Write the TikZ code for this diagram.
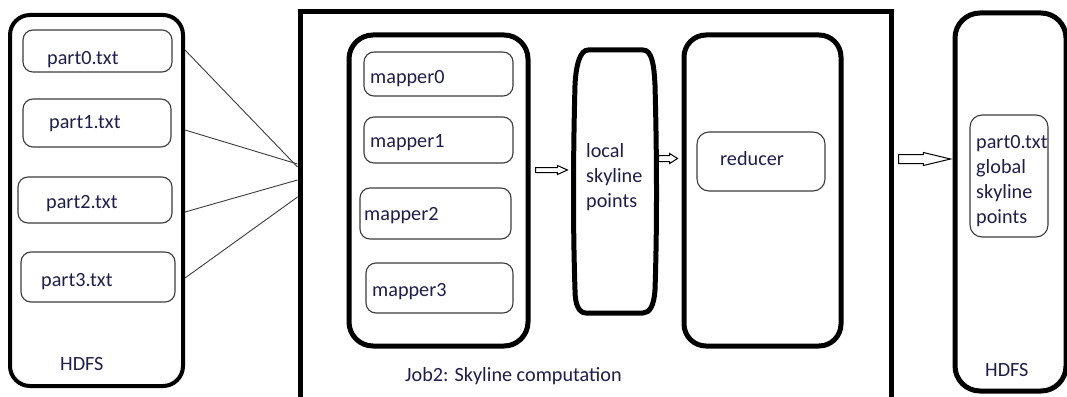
\documentclass[tikz,border=0pt]{standalone}
\usepackage{fontspec}
\setmainfont{Carlito}
\usetikzlibrary{shapes.arrows,calc}
\definecolor{ink}{RGB}{30,30,75}
\definecolor{thinline}{RGB}{60,60,60}
\tikzset{
  heavybox/.style={draw=black, line width=5pt, rounded corners=24pt, inner sep=0pt},
  itembox/.style={draw=thinline, line width=1.1pt, rounded corners=10pt, inner sep=0pt},
  lbl/.style={anchor=base west, inner sep=0pt, text=ink, font=\fontsize{20.2}{24}\selectfont},
  link/.style={draw=thinline, line width=0.9pt},
  hollow/.style={single arrow, draw=black, line width=1pt, fill=white, anchor=tail,
    inner xsep=0pt, minimum width=0pt, single arrow head indent=0pt},
}
\begin{document}
\begin{tikzpicture}[x=1pt,y=-1pt]
\useasboundingbox (0,0) rectangle (1067,396);
\fill[white] (0,0) rectangle (1067,396);

% ---------- input HDFS ----------
\node[heavybox, line width=4pt, rounded corners=20pt, minimum width=173pt, minimum height=371pt] (hdfsL) at (96.5,200.5) {};
\node[itembox, minimum width=149pt, minimum height=42pt] (p0) at (97.5,51) {};
\node[itembox, minimum width=148pt, minimum height=48pt] (p1) at (97,123) {};
\node[itembox, minimum width=154pt, minimum height=46pt] (p2) at (95,200) {};
\node[itembox, minimum width=154pt, minimum height=50pt] (p3) at (98,277) {};
\node[lbl] (p0t) at (47,64) {part0.txt};
\node[lbl] (p1t) at (49,128) {part1.txt};
\node[lbl] (p2t) at (46,208) {part2.txt};
\node[lbl] (p3t) at (41,286) {part3.txt};
\node[lbl] (hdfsLt) at (60,370) {HDFS};

% ---------- the job ----------
\node[draw=black, line width=5pt, inner sep=0pt, minimum width=591pt, minimum height=390pt] (job) at (595.5,207) {};
\node[lbl] (jobt) at (405,381) {Job2: Skyline computation};

% mappers
\node[heavybox, minimum width=179pt, minimum height=311pt] (maps) at (438.5,190.5) {};
\node[itembox, minimum width=149pt, minimum height=44pt] (m0) at (438.5,74) {};
\node[itembox, minimum width=149pt, minimum height=46pt] (m1) at (438.5,140) {};
\node[itembox, minimum width=151pt, minimum height=51pt] (m2) at (435.5,213.5) {};
\node[itembox, minimum width=147pt, minimum height=50pt] (m3) at (439.5,288) {};
\node[lbl] (m0t) at (370,83) {mapper0};
\node[lbl] (m1t) at (370,147) {mapper1};
\node[lbl] (m2t) at (364,220) {mapper2};
\node[lbl] (m3t) at (372,296) {mapper3};

% local skyline points: barrel-shaped outline
\node[line width=5pt, inner sep=0pt, minimum width=80pt, minimum height=263pt] (local) at (615,181.5) {};
\draw[line width=5pt, line join=round]
  (588,50) -- (643,50)
  .. controls (652,50) and (654,65) .. (655,85)
  .. controls (657,160) and (657,230) .. (655,290)
  .. controls (654,305) and (650,313) .. (643,313)
  -- (586,313)
  .. controls (579,313) and (575,305) .. (575,290)
  .. controls (573,230) and (573,160) .. (575,85)
  .. controls (576,65) and (580,50) .. (588,50) -- cycle;
\node[lbl] (lt1) at (586,157) {local};
\node[lbl] (lt2) at (586,182) {skyline};
\node[lbl] (lt3) at (586,207) {points};

% reducer
\node[heavybox, rounded corners=22pt, minimum width=157pt, minimum height=311pt] (redc) at (762.5,190.5) {};
\node[itembox, rounded corners=12pt, minimum width=128pt, minimum height=59pt] (red) at (761,161.5) {};
\node[lbl] (redt) at (720,165) {reducer};

% ---------- output HDFS ----------
\node[heavybox, rounded corners=25pt, minimum width=111pt, minimum height=378pt] (hdfsR) at (1010.5,202) {};
\node[itembox, rounded corners=12pt, minimum width=78pt, minimum height=122pt] (out) at (1009,176) {};
\node[lbl] (o1) at (976,148) {part0.txt};
\node[lbl] (o2) at (976,173) {global};
\node[lbl] (o3) at (976,198) {skyline};
\node[lbl] (o4) at (976,223) {points};
\node[lbl] (hdfsRt) at (985,376) {HDFS};

% ---------- connectors ----------
\draw[link] (hdfsL.east |- 0,50)  -- (job.west |- 0,167);
\draw[link] (hdfsL.east |- 0,130) -- (job.west |- 0,164);
\draw[link] (hdfsL.east |- 0,212) -- (job.west |- 0,180);
\draw[link] (hdfsL.east |- 0,278) -- (job.west |- 0,197);

\node[hollow, inner ysep=2pt, single arrow head extend=2pt, single arrow tip angle=48, minimum height=32pt]
  (a1) at ($(maps.east |- 0,170)+(4.5,0)$) {};
\node[hollow, inner ysep=2.5pt, single arrow head extend=2pt, single arrow tip angle=65, minimum height=19pt]
  (a2) at ($(local.east |- 0,158.5)+(0.5,0)$) {};
\node[hollow, inner ysep=4pt, single arrow head extend=2pt, single arrow tip angle=27, minimum height=52pt]
  (a3) at ($(job.east |- 0,159)+(4.5,0)$) {};
\end{tikzpicture}
\end{document}
